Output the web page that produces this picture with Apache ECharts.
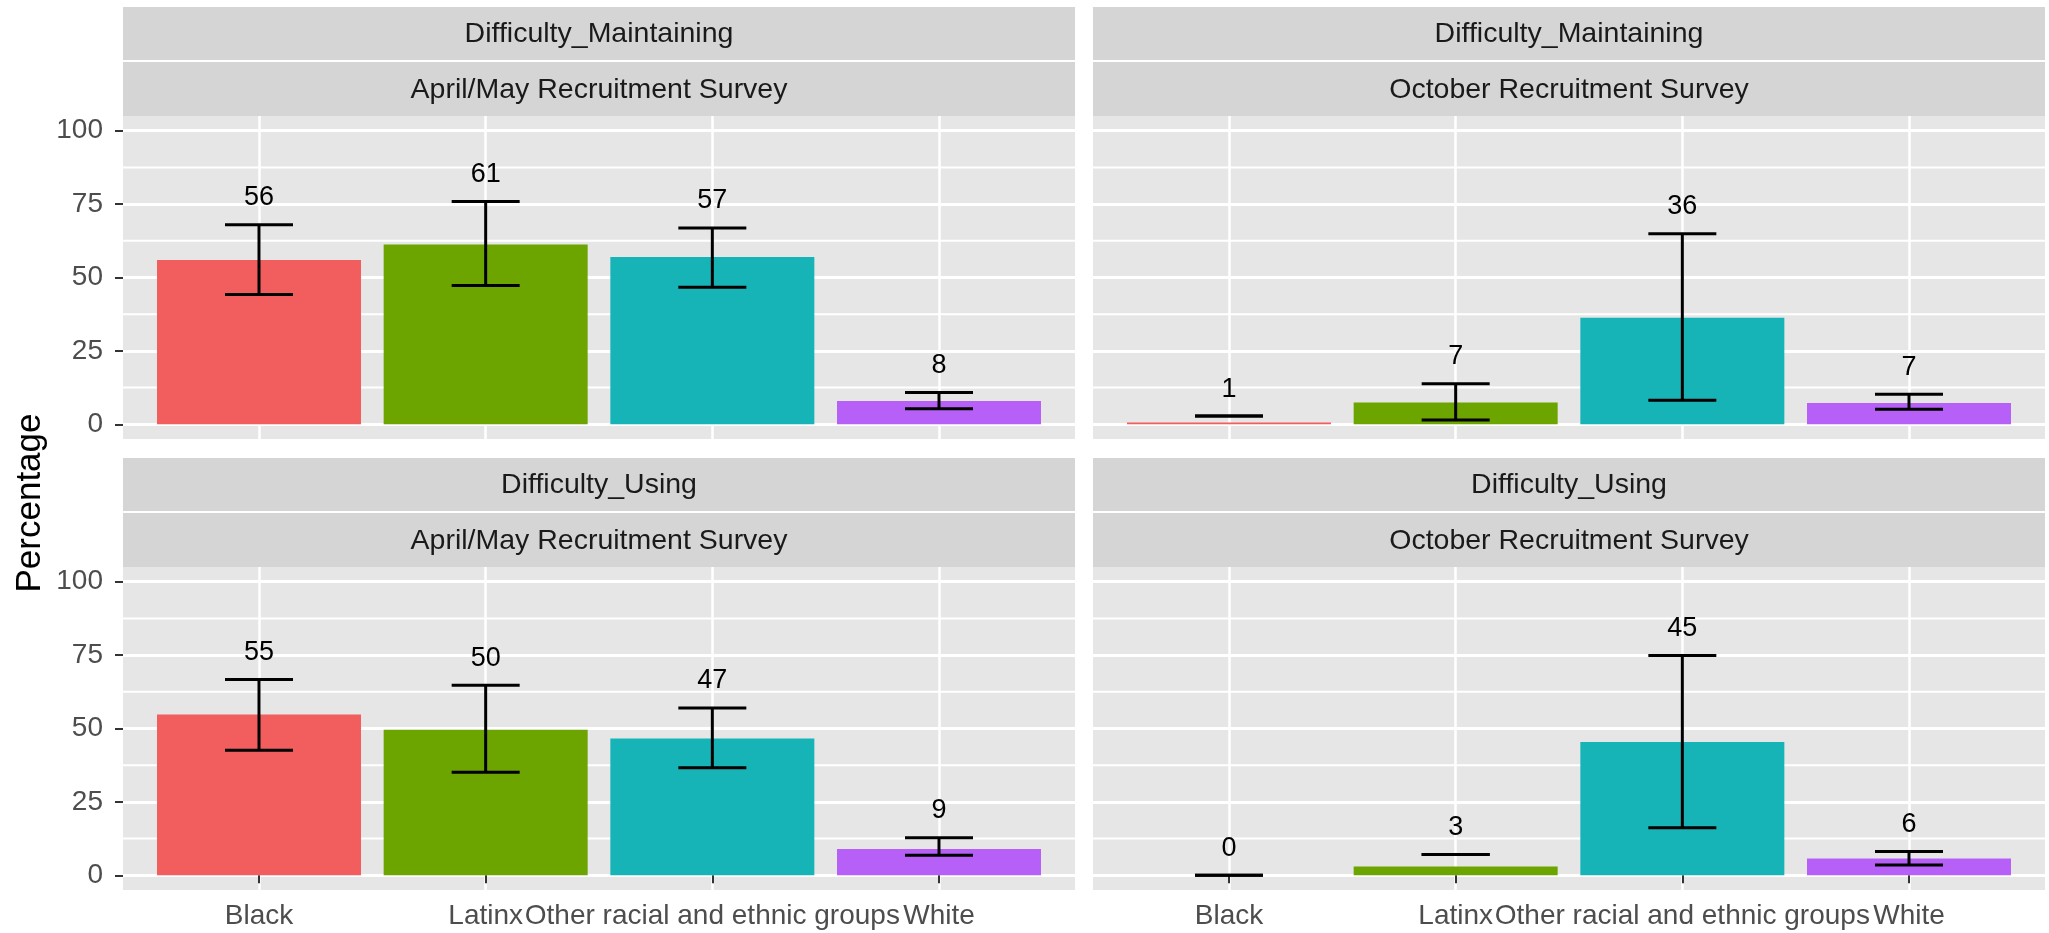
<!DOCTYPE html>
<html>
<head>
<meta charset="utf-8">
<script src="https://cdn.jsdelivr.net/npm/echarts@6/dist/echarts.min.js"></script>
<style>
html,body{margin:0;padding:0;background:#ffffff;}
#chart{width:2049px;height:933px;}
</style>
</head>
<body>
<div id="chart"></div>
<script>
// ---------- data ----------
const categories = ['Black', 'Latinx', 'Other racial and ethnic groups', 'White'];
const measures = ['Difficulty_Maintaining', 'Difficulty_Maintaining', 'Difficulty_Using', 'Difficulty_Using'];
const surveys = ['April/May Recruitment Survey', 'October Recruitment Survey', 'April/May Recruitment Survey', 'October Recruitment Survey'];

const maintainingAprilValues = [56.0, 61.2, 57.0, 7.9];
const maintainingAprilLower  = [44.2, 47.3, 46.7, 5.3];
const maintainingAprilUpper  = [68.0, 75.9, 66.9, 10.8];

const maintainingOctoberValues = [0.6, 7.4, 36.3, 7.3];
const maintainingOctoberLower  = [2.8, 1.5, 8.2, 5.1];
const maintainingOctoberUpper  = [2.8, 13.8, 64.9, 10.2];

const usingAprilValues = [54.8, 49.6, 46.6, 9.0];
const usingAprilLower  = [42.6, 35.1, 36.6, 6.8];
const usingAprilUpper  = [66.7, 64.7, 57.0, 12.8];

const usingOctoberValues = [0.0, 3.0, 45.4, 5.7];
const usingOctoberLower  = [0.0, 7.1, 16.2, 3.5];
const usingOctoberUpper  = [0.0, 7.1, 74.9, 8.1];

const yTicks = [0, 25, 50, 75, 100];
const yMinorBreaks = [12.5, 37.5, 62.5, 87.5];
const xPositions = [1, 2, 3, 4];

// ---------- styling / layout ----------
const FONT = '"Liberation Sans", Arial, Helvetica, sans-serif';
const barColors = ['#F25D5D', '#6CA400', '#17B4B7', '#B660F8'];
const PANEL_BG = '#E6E6E6';
const STRIP_BG = '#D5D5D5';
const layout = {
  lefts: [123, 1093, 123, 1093],
  tops: [116, 116, 567, 567],
  width: 952,
  height: 323,
  strip1H: 53,
  strip2H: 54,
  stripGap: 2
};

const panels = [
  { values: maintainingAprilValues, lower: maintainingAprilLower, upper: maintainingAprilUpper },
  { values: maintainingOctoberValues, lower: maintainingOctoberLower, upper: maintainingOctoberUpper },
  { values: usingAprilValues, lower: usingAprilLower, upper: usingAprilUpper },
  { values: usingOctoberValues, lower: usingOctoberLower, upper: usingOctoberUpper }
];

function renderBar(params, api) {
  const x = api.value(0), v = api.value(1), lo = api.value(2), hi = api.value(3), k = api.value(4);
  const barW = api.size([0.9, 0], [x, 0])[0];
  const capW = api.size([0.3, 0], [x, 0])[0];
  const p0 = api.coord([x, 0]);
  const pv = api.coord([x, v]);
  const plo = api.coord([x, lo]);
  const phi = api.coord([x, hi]);
  const cx = p0[0];
  const ebStyle = { stroke: '#000000', lineWidth: 3 };
  return {
    type: 'group',
    children: [
      { type: 'rect', shape: { x: cx - barW / 2, y: pv[1], width: barW, height: Math.max(p0[1] - pv[1], 0) },
        style: { fill: barColors[k] } },
      { type: 'line', shape: { x1: cx, y1: plo[1], x2: cx, y2: phi[1] }, style: ebStyle },
      { type: 'line', shape: { x1: cx - capW / 2, y1: plo[1], x2: cx + capW / 2, y2: plo[1] }, style: ebStyle },
      { type: 'line', shape: { x1: cx - capW / 2, y1: phi[1], x2: cx + capW / 2, y2: phi[1] }, style: ebStyle },
      { type: 'text', x: cx, y: phi[1] - 27,
        style: { text: String(Math.round(v)), align: 'center', verticalAlign: 'middle',
                 textAlign: 'center', textVerticalAlign: 'middle',
                 fontSize: 27, fontFamily: FONT, fill: '#000000' } }
    ]
  };
}

function renderMinor(params, api) {
  const cs = params.coordSys;
  const p = api.coord([1, api.value(1)]);
  return {
    type: 'line',
    shape: { x1: cs.x, y1: p[1], x2: cs.x + cs.width, y2: p[1] },
    style: { stroke: '#FFFFFF', lineWidth: 2 }
  };
}

const grids = [], xAxes = [], yAxes = [], series = [], graphics = [];

panels.forEach((p, i) => {
  const isLeft = (i % 2 === 0);
  const isBottom = (i >= 2);
  grids.push({
    left: layout.lefts[i], top: layout.tops[i], width: layout.width, height: layout.height,
    show: true, backgroundColor: PANEL_BG, borderWidth: 0, containLabel: false
  });
  xAxes.push({
    type: 'value', gridIndex: i, min: 0.4, max: 4.6, position: 'bottom',
    axisLine: { show: false },
    axisTick: { show: isBottom, customValues: xPositions, length: 8, lineStyle: { color: '#333333', width: 2 } },
    axisLabel: { show: isBottom, customValues: xPositions, margin: 12, fontSize: 28, fontFamily: FONT, color: '#4D4D4D',
                 hideOverlap: false, showMinLabel: true, showMaxLabel: true,
                 formatter: (val) => categories[Math.round(val) - 1] || '' },
    splitLine: { show: true, lineStyle: { color: '#FFFFFF', width: 2.5 } }
  });
  yAxes.push({
    type: 'value', gridIndex: i, min: -5, max: 105,
    axisLine: { show: false },
    axisTick: { show: isLeft, customValues: yTicks, length: 8, lineStyle: { color: '#333333', width: 2 } },
    axisLabel: { show: isLeft, customValues: yTicks, margin: 20, fontSize: 28, fontFamily: FONT, color: '#4D4D4D' },
    splitLine: { show: true, lineStyle: { color: '#FFFFFF', width: 3 } }
  });
  series.push({
    type: 'custom', xAxisIndex: i, yAxisIndex: i, z: 1, silent: true,
    renderItem: renderMinor,
    data: yMinorBreaks.map(b => [1, b])
  });
  series.push({
    type: 'custom', xAxisIndex: i, yAxisIndex: i, z: 3, silent: true,
    renderItem: renderBar,
    data: categories.map((c, k) => [xPositions[k], p.values[k], p.lower[k], p.upper[k], k])
  });

  // facet strips
  const sx = layout.lefts[i];
  const top = layout.tops[i];
  const y2 = top - layout.strip2H;
  const y1 = y2 - layout.stripGap - layout.strip1H;
  graphics.push({ type: 'rect', shape: { x: sx, y: y1, width: layout.width, height: layout.strip1H }, style: { fill: STRIP_BG } });
  graphics.push({ type: 'rect', shape: { x: sx, y: y2, width: layout.width, height: layout.strip2H }, style: { fill: STRIP_BG } });
  graphics.push({ type: 'text', x: sx + layout.width / 2, y: y1 + layout.strip1H / 2 + 1,
    style: { text: measures[i], align: 'center', verticalAlign: 'middle', textAlign: 'center', textVerticalAlign: 'middle',
             fontSize: 28.5, fontFamily: FONT, fill: '#1A1A1A' } });
  graphics.push({ type: 'text', x: sx + layout.width / 2, y: y2 + layout.strip2H / 2 + 1,
    style: { text: surveys[i], align: 'center', verticalAlign: 'middle', textAlign: 'center', textVerticalAlign: 'middle',
             fontSize: 28.5, fontFamily: FONT, fill: '#1A1A1A' } });
});

// y-axis title
graphics.push({
  type: 'text', x: 30, y: (layout.tops[0] + layout.tops[2] + layout.height) / 2, rotation: Math.PI / 2,
  style: { text: 'Percentage', align: 'center', verticalAlign: 'middle', textAlign: 'center', textVerticalAlign: 'middle',
           fontSize: 35, fontFamily: FONT, fill: '#000000' }
});

const chart = echarts.init(document.getElementById('chart'), null, { renderer: 'canvas' });
chart.setOption({
  animation: false,
  backgroundColor: '#FFFFFF',
  textStyle: { fontFamily: FONT },
  grid: grids,
  xAxis: xAxes,
  yAxis: yAxes,
  series: series,
  graphic: { elements: graphics }
});
</script>
</body>
</html>
